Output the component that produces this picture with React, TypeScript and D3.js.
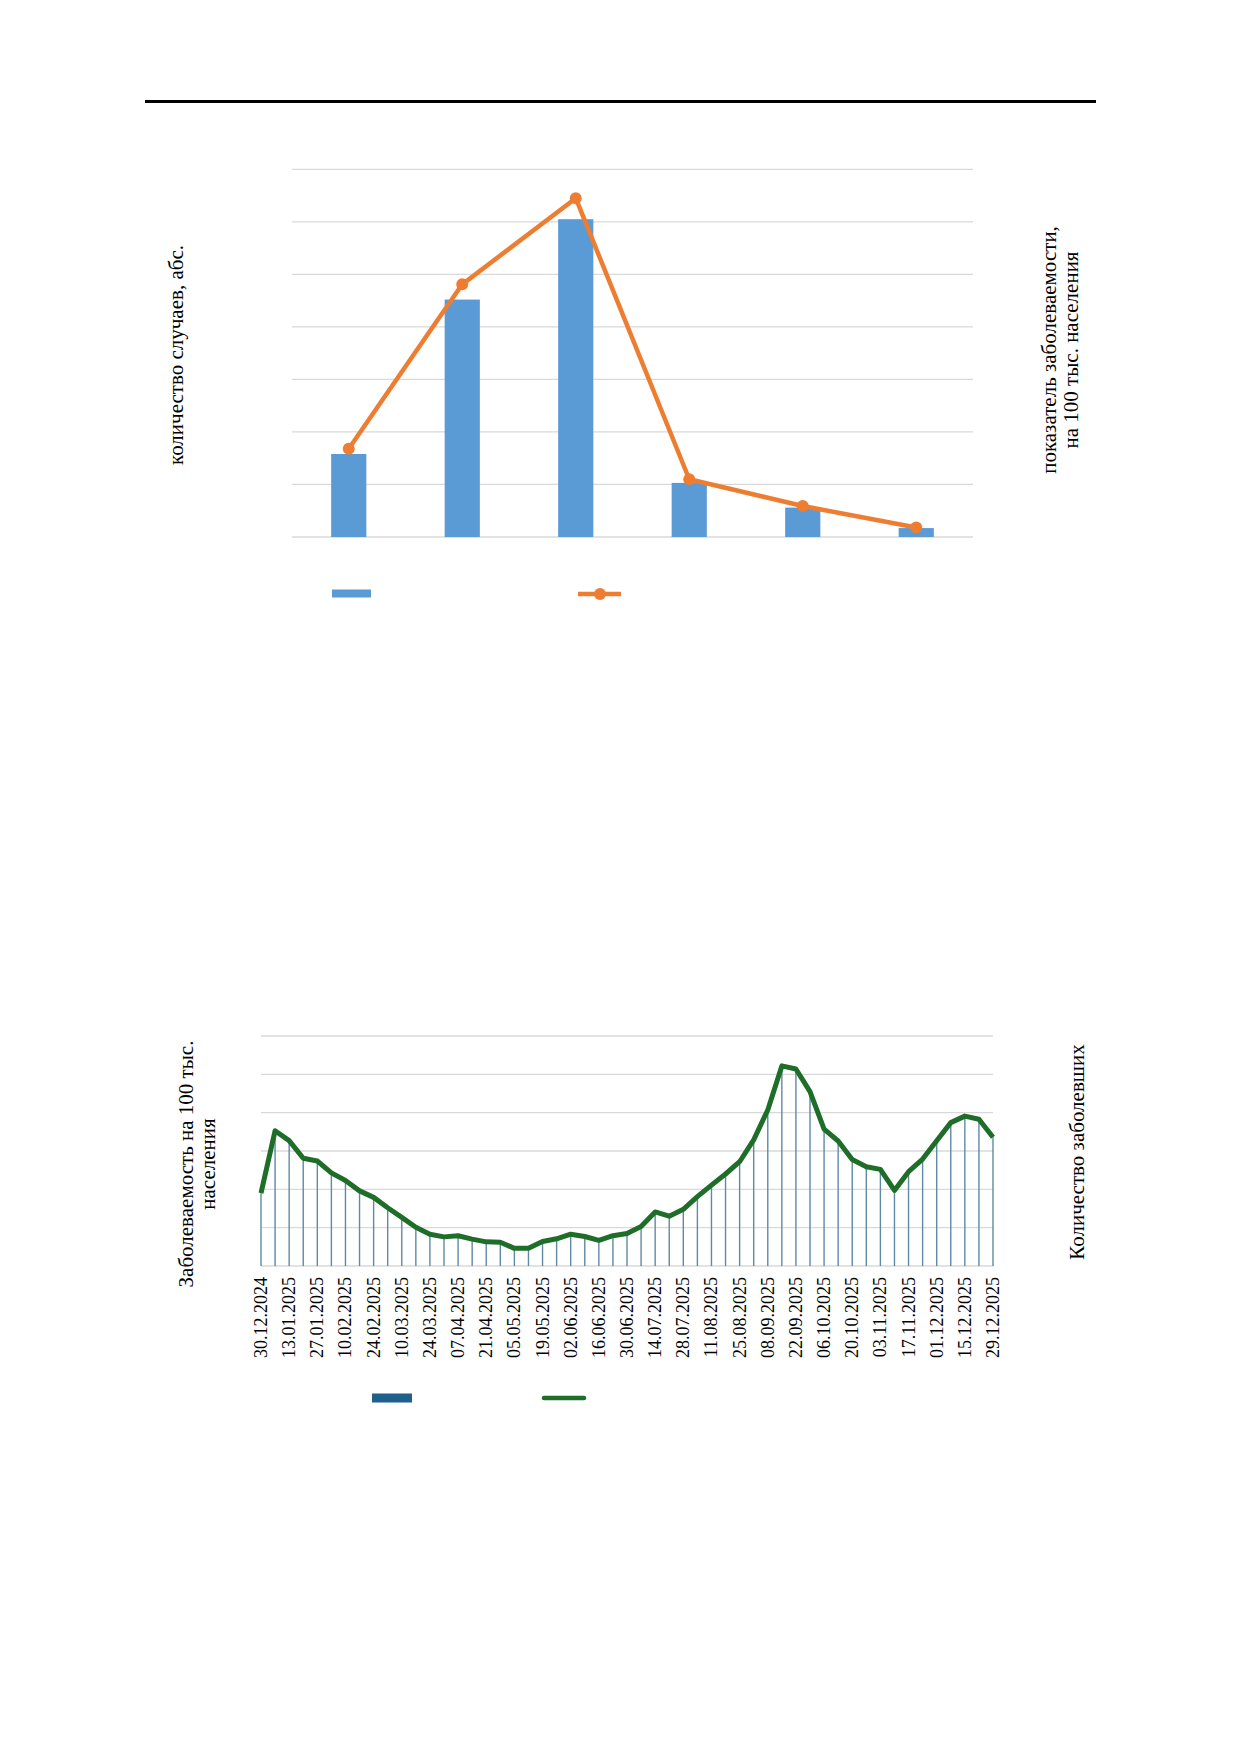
import * as React from 'react';
import * as d3 from 'd3';

// chart 1: bars = cases, line = incidence rate (grid units, no tick labels in source)
const groups = ['1', '2', '3', '4', '5', '6'];
const cases = [1.58, 4.52, 6.05, 1.03, 0.56, 0.17];
const rate = [1.68, 4.81, 6.45, 1.1, 0.59, 0.18];

// chart 2: weekly incidence 30.12.2024 - 29.12.2025
const weekly = [
  1.9, 3.53, 3.27, 2.81, 2.74, 2.43, 2.23, 1.96, 1.79, 1.52,
  1.27, 1.01, 0.83, 0.76, 0.79, 0.7, 0.63, 0.62, 0.46, 0.46,
  0.64, 0.71, 0.83, 0.77, 0.67, 0.79, 0.85, 1.03, 1.41, 1.3,
  1.48, 1.81, 2.11, 2.4, 2.72, 3.29, 4.07, 5.22, 5.14, 4.55,
  3.57, 3.26, 2.78, 2.59, 2.52, 1.97, 2.46, 2.79, 3.27, 3.74,
  3.91, 3.83, 3.36,
];
const weekLabels = [
  '30.12.2024', '13.01.2025', '27.01.2025', '10.02.2025', '24.02.2025', '10.03.2025',
  '24.03.2025', '07.04.2025', '21.04.2025', '05.05.2025', '19.05.2025', '02.06.2025',
  '16.06.2025', '30.06.2025', '14.07.2025', '28.07.2025', '11.08.2025', '25.08.2025',
  '08.09.2025', '22.09.2025', '06.10.2025', '20.10.2025', '03.11.2025', '17.11.2025',
  '01.12.2025', '15.12.2025', '29.12.2025',
];

const FONT = '"Liberation Serif", "Times New Roman", serif';
const GRID = '#d9d9d9';

function VLabel({ x, y, lines, size = 21, gap = 22 }) {
  return (
    <text
      transform={`translate(${x}, ${y}) rotate(-90)`}
      textAnchor="middle"
      fontFamily={FONT}
      fontSize={size}
      fill="#000"
    >
      {lines.map((l, i) => (
        <tspan key={i} x={0} y={i * gap} dominantBaseline="central">{l}</tspan>
      ))}
    </text>
  );
}

function ChartOne() {
  const x = d3.scaleBand().domain(groups).range([292, 973]).padding(0);
  const y = d3.scaleLinear().domain([0, 7]).range([537, 169.3]);
  const y2 = d3.scaleLinear().domain([0, 7]).range([537, 169.3]);
  const bw = x.bandwidth() * 0.31;
  const cx = (g) => x(g) + x.bandwidth() / 2;
  const line = d3.line<number>().x((d, i) => cx(groups[i])).y((d) => y2(d));

  return (
    <g>
      {y.ticks(7).map((t) => (
        <line key={t} x1={292} x2={973} y1={y(t)} y2={y(t)} stroke={GRID} strokeWidth={1.3} />
      ))}
      {groups.map((g, i) => (
        <rect key={g} x={cx(g) - bw / 2} width={bw} y={y(cases[i])} height={y(0) - y(cases[i])} fill="#5b9bd5" />
      ))}
      <path d={line(rate)} fill="none" stroke="#ed7d31" strokeWidth={4.5} strokeLinejoin="round" />
      {rate.map((v, i) => (
        <circle key={i} cx={cx(groups[i])} cy={y2(v)} r={6} fill="#ed7d31" />
      ))}
      <VLabel x={176} y={355} lines={['количество случаев, абс.']} />
      <VLabel x={1049} y={350} lines={['показатель заболеваемости,', 'на 100 тыс. населения']} />
      {/* legend */}
      <rect x={332} y={589.5} width={39} height={8} fill="#5b9bd5" />
      <line x1={578} x2={621} y1={594} y2={594} stroke="#ed7d31" strokeWidth={4.5} />
      <circle cx={600} cy={594} r={6} fill="#ed7d31" />
    </g>
  );
}

function ChartTwo() {
  const x = d3.scaleLinear().domain([0, weekly.length - 1]).range([261, 993]);
  const y = d3.scaleLinear().domain([0, 6]).range([1266, 1036]);
  const line = d3.line<number>().x((d, i) => x(i)).y((d) => y(d));

  return (
    <g>
      {y.ticks(6).map((t) => (
        <line key={t} x1={x(0)} x2={x(weekly.length - 1)} y1={y(t)} y2={y(t)} stroke={GRID} strokeWidth={1.3} />
      ))}
      {weekly.map((v, i) => (
        <rect key={i} x={x(i) - 0.7} width={1.4} y={y(v)} height={y(0) - y(v)} fill="#5f8aa6" />
      ))}
      <path d={line(weekly)} fill="none" stroke="#1e6e29" strokeWidth={5} strokeLinejoin="round" />
      {weekLabels.map((l, i) => (
        <text
          key={l}
          transform={`translate(${x(i * 2)}, 1277) rotate(-90)`}
          textAnchor="end"
          dominantBaseline="central"
          fontFamily={FONT}
          fontSize={18}
        >
          {l}
        </text>
      ))}
      <VLabel x={186} y={1164} lines={['Заболеваемость на 100 тыс.', 'населения']} />
      <VLabel x={1077} y={1152} lines={['Количество заболевших']} />
      {/* legend */}
      <rect x={372} y={1393.5} width={40} height={9} fill="#1f5f8b" />
      <line x1={544} x2={584} y1={1398} y2={1398} stroke="#1e6e29" strokeWidth={4.5} strokeLinecap="round" />
    </g>
  );
}

export default function App() {
  return (
    <svg
      width={1240}
      height={1754}
      style={{ position: 'absolute', left: 0, top: 0, background: '#fff' }}
    >
      <rect width={1240} height={1754} fill="#fff" />
      <line x1={145} x2={1096} y1={101.5} y2={101.5} stroke="#000" strokeWidth={3} />
      <ChartOne />
      <ChartTwo />
    </svg>
  );
}
